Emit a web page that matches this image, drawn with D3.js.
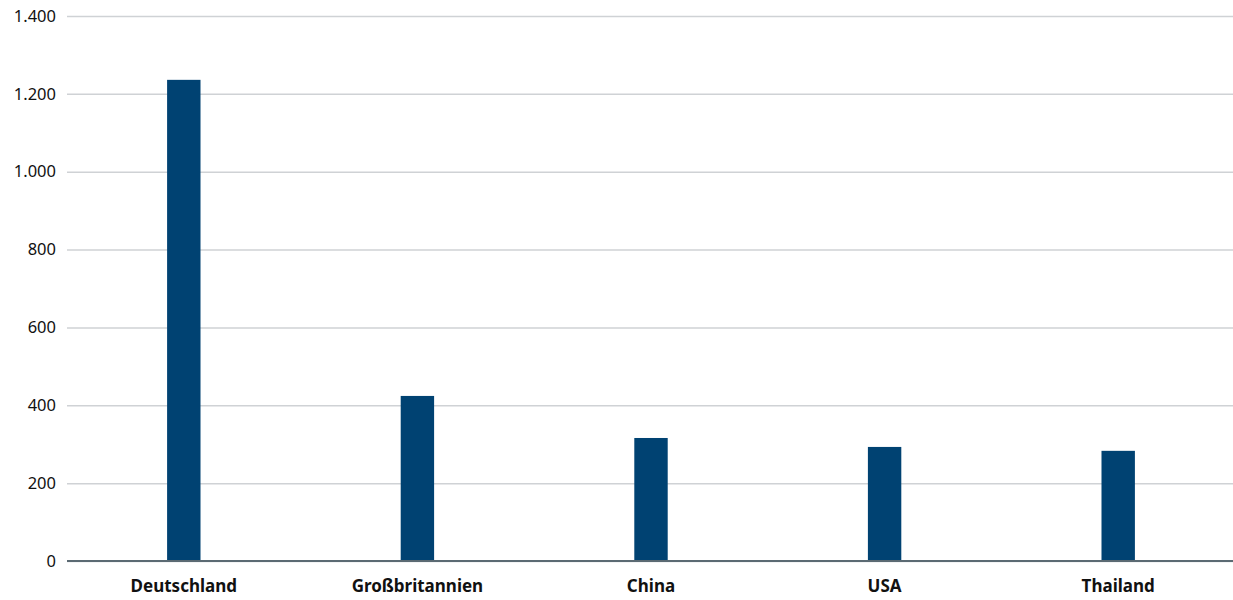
<!DOCTYPE html>
<html><head><meta charset="utf-8">
<script src="https://cdn.jsdelivr.net/npm/d3@7"></script>
<style>body{margin:0;background:#fff}svg{display:block}</style>
</head><body><svg id="c" width="1233" height="600"></svg>
<script>
const categories = ["Deutschland","Großbritannien","China","USA","Thailand"];
const values = [1236, 424, 316, 293, 283];
const yTicks = [0,200,400,600,800,1000,1200,1400];

const svg = d3.select("#c");
const m = {l:67, r:0, t:16, b:39};
const W = 1233, H = 600;
const x = d3.scaleBand().domain(categories).range([m.l, W+2]).paddingInner(0.857).paddingOuter(0.4285);
const y = d3.scaleLinear().domain([0,1400]).range([H-m.b, m.t]);
const fmt = v => d3.format(",")(v).replace(/,/g,".");

const font = "'Noto Sans', 'Open Sans', sans-serif";
const yAxis = svg.append("g").attr("transform",`translate(${m.l},0)`)
  .call(d3.axisLeft(y).tickValues(yTicks).tickSize(-(W-m.l-m.r)).tickPadding(11).tickFormat(fmt));
yAxis.select(".domain").remove();
yAxis.selectAll(".tick line").attr("stroke","#cfd2d5").attr("stroke-width",1.5);
yAxis.selectAll(".tick text").attr("fill","#111").style("font-family",font).style("font-size","16.5px");

svg.append("g").selectAll("rect").data(values).join("rect")
  .attr("x",(d,i)=>x(categories[i])).attr("width",x.bandwidth())
  .attr("y",d=>y(d)).attr("height",d=>y(0)-y(d)).attr("fill","#004272");

svg.append("line").attr("x1",m.l).attr("x2",W).attr("y1",y(0)).attr("y2",y(0))
  .attr("stroke","#5b6a73").attr("stroke-width",2);

const xAxis = svg.append("g").attr("transform",`translate(0,${y(0)})`)
  .call(d3.axisBottom(x).tickSize(0).tickPadding(19));
xAxis.select(".domain").remove();
xAxis.selectAll(".tick text").attr("fill","#111").style("font-family",font)
  .style("font-size","17px").style("font-weight","bold");
</script></body></html>
